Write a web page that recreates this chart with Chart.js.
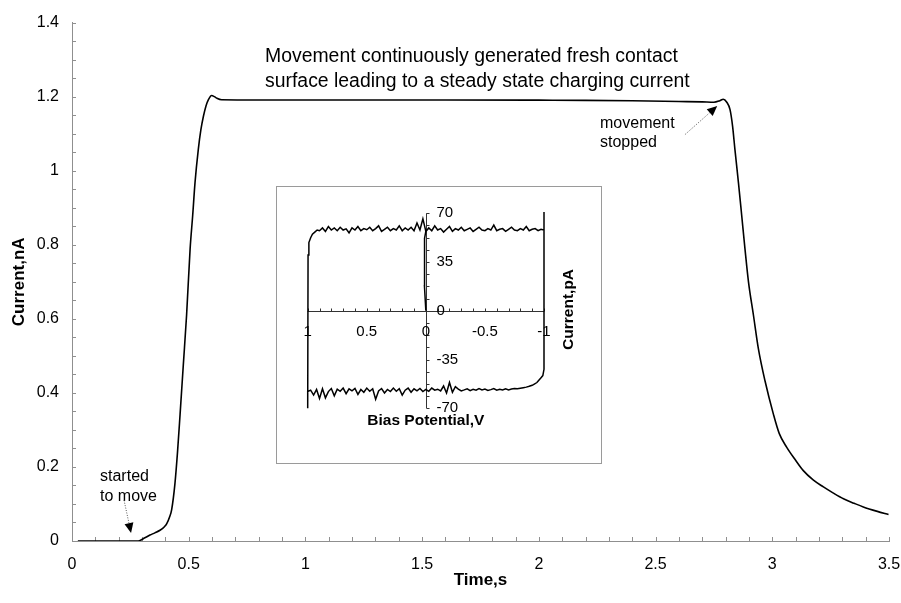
<!DOCTYPE html>
<html>
<head>
<meta charset="utf-8">
<script src="https://cdn.jsdelivr.net/npm/chart.js@4.4.1/dist/chart.umd.min.js"></script>
<style>
  html, body { margin: 0; padding: 0; background: #fff; }
  #wrap { position: relative; width: 901px; height: 603px; }
  #mainChart { display: block; }
  #inset { position: absolute; left: 276px; top: 186px; width: 326px; height: 278px;
           box-sizing: border-box; border: 1px solid #9a9a9a; background: #fff; }
  #insetChart { display: block; }
</style>
</head>
<body>
<div id="wrap">
  <canvas id="mainChart" width="901" height="603"></canvas>
  <div id="inset"><canvas id="insetChart" width="324" height="276"></canvas></div>
</div>
<script>
// Main trace: current vs time
const timeS = [0.025, 0.1, 0.2, 0.284, 0.31, 0.334, 0.355, 0.377, 0.395, 0.406, 0.418, 0.427, 0.441, 0.452, 0.463,
  0.477, 0.491, 0.506, 0.517, 0.527, 0.541, 0.552, 0.563, 0.574, 0.584, 0.598, 0.61, 0.62, 0.641, 0.8,
  1.2, 1.6, 2.0, 2.2, 2.4, 2.6, 2.7, 2.75, 2.775, 2.79, 2.805, 2.819, 2.83, 2.84, 2.855,
  2.869, 2.883, 2.898, 2.919, 2.94, 2.969, 3.005, 3.03, 3.062, 3.1, 3.133, 3.175, 3.219, 3.26, 3.305,
  3.35, 3.39, 3.45, 3.498];
const currentNA = [0, 0, 0, 0, 0.008, 0.016, 0.022, 0.029, 0.038, 0.047, 0.065, 0.085, 0.155, 0.24, 0.342,
  0.477, 0.611, 0.789, 0.879, 0.968, 1.057, 1.11, 1.147, 1.175, 1.191, 1.203, 1.2, 1.196, 1.1916, 1.191,
  1.191, 1.191, 1.1905, 1.19, 1.189, 1.187, 1.186, 1.185, 1.189, 1.193, 1.185, 1.165, 1.12, 1.057, 0.968,
  0.879, 0.789, 0.7, 0.611, 0.521, 0.432, 0.342, 0.29, 0.253, 0.218, 0.19, 0.165, 0.146, 0.13, 0.114,
  0.102, 0.092, 0.08, 0.0716];

const xTicks = [0, 0.5, 1, 1.5, 2, 2.5, 3, 3.5];
const yTicks = [0, 0.2, 0.4, 0.6, 0.8, 1, 1.2, 1.4];

// Inset: cyclic scan, current (pA) vs bias (V)
const cvStartV = [0, 0.012, 0.014, 0.008, 0];
const cvStartI = [0, 18, 38, 52, 57];

const cvUpperAV = [-0.025, -0.05, -0.075, -0.1, -0.125, -0.15, -0.175, -0.2, -0.225, -0.25,
  -0.275, -0.3, -0.325, -0.35, -0.375, -0.4, -0.425, -0.45, -0.475, -0.5,
  -0.525, -0.55, -0.575, -0.6, -0.625, -0.65, -0.675, -0.7, -0.725, -0.75,
  -0.775, -0.8, -0.825, -0.85, -0.875, -0.9, -0.925, -0.95, -0.975, -1];
const cvUpperAI = [59.5, 57.5, 61, 58, 59, 56.5, 58.5, 60.5, 57, 59,
  58, 60, 57.5, 58.5, 59.5, 57, 58.5, 60, 58, 57.5,
  59, 58, 61.5, 57.5, 58.5, 59, 57, 58.5, 60, 58,
  57.5, 59, 58, 60.5, 57.5, 58.5, 59, 57.5, 58.5, 58];

const cvTurnRightV = [-1, -1, -0.99, -0.975, -0.96, -0.94, -0.918, -0.9, -0.875, -0.85, -0.825, -0.8, -0.775, -0.75];
const cvTurnRightI = [71, -42, -46.5, -48, -49.5, -51.5, -52.6, -53.5, -54.2, -54.8, -55.2, -55.6, -56, -55.8];

const cvLowerV = [-0.725, -0.7, -0.675, -0.65, -0.625, -0.6, -0.575, -0.55, -0.525, -0.5,
  -0.475, -0.45, -0.425, -0.4, -0.375, -0.35, -0.325, -0.3, -0.275, -0.25,
  -0.225, -0.2, -0.175, -0.15, -0.125, -0.1, -0.075, -0.05, -0.025, 0,
  0.025, 0.05, 0.075, 0.1, 0.125, 0.15, 0.175, 0.2, 0.225, 0.25,
  0.275, 0.3, 0.325, 0.35, 0.375, 0.4, 0.425, 0.45, 0.475, 0.5,
  0.525, 0.55, 0.575, 0.6, 0.625, 0.65, 0.675, 0.7, 0.725, 0.75,
  0.775, 0.8, 0.825, 0.85, 0.875, 0.9, 0.925, 0.95, 0.975, 1];
const cvLowerI = [-56.2, -56.8, -56, -56.9, -56.3, -57, -55.8, -56.6, -57.2, -56.2,
  -56.8, -55.9, -57, -56.4, -57.3, -56, -56.8, -57.5, -56.2, -54.5,
  -58.5, -51.5, -59, -54, -57.5, -56.3, -57, -55.5, -57.8, -56.5,
  -58, -55.8, -57.5, -56, -58.5, -55.5, -57, -60.5, -56, -57.8,
  -55.5, -58, -56.5, -59, -55.8, -57.5, -63.5, -56, -57.8, -55.5,
  -58.5, -56.5, -60, -55.8, -57.5, -56, -59.5, -55.5, -57.8, -56.2,
  -61, -55.8, -58, -62.5, -56, -63, -56.5, -60.5, -57, -58];

const cvTurnLeftV = [1, 0.997, 0.99, 0.975, 0.96, 0.94, 0.92, 0.9];
const cvTurnLeftI = [-70, 40, 49, 52.5, 55, 56.5, 58, 57.5];

const cvUpperBV = [0.875, 0.85, 0.825, 0.8, 0.775, 0.75, 0.725, 0.7, 0.675, 0.65,
  0.625, 0.6, 0.575, 0.55, 0.525, 0.5, 0.475, 0.45, 0.425, 0.4,
  0.375, 0.35, 0.325, 0.3, 0.275, 0.25, 0.225, 0.2, 0.175, 0.15,
  0.125, 0.1, 0.075, 0.05, 0.025, 0];
const cvUpperBI = [59.5, 57, 60.5, 58, 59.5, 57.5, 60, 58, 58.8, 56,
  59.5, 58, 60.5, 57.5, 59, 58.2, 60, 57.5, 59, 61,
  57, 58.5, 60, 57.5, 59, 58, 61, 57.5, 59.5, 58,
  60, 57.5, 63, 58, 66, 57];

const insetXTicks = [1, 0.5, 0, -0.5, -1];
const insetYTicks = [70, 35, 0, -35, -70];

const FONT = 'Arial, "Liberation Sans", sans-serif';
const AXIS_GRAY = '#8f8f8f';

// Annotations placed in data units of the main chart
const notes = [
  { text: 'Movement continuously generated fresh contact', x: 0.827, y: 1.3087, size: 19.4 },
  { text: 'surface leading to a steady state charging current', x: 0.827, y: 1.2413, size: 19.4 },
  { text: 'movement', x: 2.262, y: 1.1263, size: 16 },
  { text: 'stopped', x: 2.262, y: 1.0753, size: 16 },
  { text: 'started', x: 0.12, y: 0.1743, size: 16 },
  { text: 'to move', x: 0.12, y: 0.1207, size: 16 }
];
const arrows = [
  { from: [0.223, 0.110], to: [0.253, 0.0215] },
  { from: [2.626, 1.0976], to: [2.764, 1.1746] }
];

function zipPoints(xs, ys) {
  return xs.map((v, i) => ({ x: v, y: ys[i] }));
}

// Inward minor tick marks on the main axes
const innerTicks = {
  id: 'innerTicks',
  beforeDatasetsDraw(chart) {
    const { ctx, scales: { x, y } } = chart;
    ctx.save();
    ctx.strokeStyle = AXIS_GRAY;
    ctx.lineWidth = 1;
    ctx.beginPath();
    for (let i = 0; i <= 35; i++) {
      const px = Math.round(x.getPixelForValue(i / 10)) + 0.5;
      ctx.moveTo(px, y.bottom);
      ctx.lineTo(px, y.bottom - 4);
    }
    for (let i = 0; i <= 28; i++) {
      const py = Math.round(y.getPixelForValue(i / 20)) + 0.5;
      ctx.moveTo(x.left, py);
      ctx.lineTo(x.left + 4, py);
    }
    ctx.stroke();
    ctx.restore();
  }
};

function drawArrow(ctx, x0, y0, x1, y1) {
  const ang = Math.atan2(y1 - y0, x1 - x0);
  const head = 10, half = 4.5;
  const bx = x1 - head * Math.cos(ang), by = y1 - head * Math.sin(ang);
  ctx.save();
  ctx.strokeStyle = '#555';
  ctx.lineWidth = 1;
  ctx.setLineDash([1, 1.5]);
  ctx.beginPath();
  ctx.moveTo(x0, y0);
  ctx.lineTo(bx, by);
  ctx.stroke();
  ctx.setLineDash([]);
  ctx.fillStyle = '#000';
  ctx.beginPath();
  ctx.moveTo(x1, y1);
  ctx.lineTo(bx + half * Math.sin(ang), by - half * Math.cos(ang));
  ctx.lineTo(bx - half * Math.sin(ang), by + half * Math.cos(ang));
  ctx.closePath();
  ctx.fill();
  ctx.restore();
}

const notesPlugin = {
  id: 'notes',
  afterDatasetsDraw(chart) {
    const { ctx, scales: { x, y } } = chart;
    ctx.save();
    ctx.fillStyle = '#000';
    ctx.textAlign = 'left';
    ctx.textBaseline = 'middle';
    notes.forEach(n => {
      ctx.font = n.size + 'px ' + FONT;
      ctx.fillText(n.text, x.getPixelForValue(n.x), y.getPixelForValue(n.y));
    });
    ctx.restore();
    arrows.forEach(a => {
      drawArrow(ctx, x.getPixelForValue(a.from[0]), y.getPixelForValue(a.from[1]),
        x.getPixelForValue(a.to[0]), y.getPixelForValue(a.to[1]));
    });
  }
};

new Chart(document.getElementById('mainChart'), {
  type: 'scatter',
  data: {
    datasets: [{
      data: zipPoints(timeS, currentNA),
      showLine: true,
      borderColor: '#000',
      borderWidth: 1.6,
      pointRadius: 0,
      cubicInterpolationMode: 'monotone',
      fill: false
    }]
  },
  options: {
    responsive: false,
    animation: false,
    layout: { padding: { top: 19, right: 0, left: 0, bottom: 0 } },
    plugins: { legend: { display: false }, tooltip: { enabled: false } },
    scales: {
      x: {
        type: 'linear', min: 0, max: 3.5,
        afterBuildTicks: s => { s.ticks = xTicks.map(v => ({ value: v })); },
        afterFit: s => { s.height = 62; s.paddingLeft = 0; s.paddingRight = 12; },
        ticks: { padding: 14, color: '#000', maxRotation: 0, font: { family: FONT, size: 16 }, callback: v => String(v) },
        grid: { drawOnChartArea: false, drawTicks: false },
        border: { display: true, color: AXIS_GRAY, width: 1 },
        title: { display: true, text: 'Time,s', color: '#000', font: { family: FONT, size: 17, weight: 'bold' }, padding: { top: 0, bottom: 12 } }
      },
      y: {
        type: 'linear', min: 0, max: 1.4,
        afterBuildTicks: s => { s.ticks = yTicks.map(v => ({ value: v })); },
        afterFit: s => { s.width = 72; },
        ticks: { padding: 13, color: '#000', font: { family: FONT, size: 16 }, callback: v => String(v) },
        grid: { drawOnChartArea: false, drawTicks: false },
        border: { display: true, color: AXIS_GRAY, width: 1 },
        title: { display: true, text: 'Current,nA', color: '#000', font: { family: FONT, size: 17, weight: 'bold' }, padding: { top: 9, bottom: 0 } }
      }
    }
  },
  plugins: [innerTicks, notesPlugin]
});

// Inset axes crossing at the origin, drawn from the inset scales
const insetAxes = {
  id: 'insetAxes',
  beforeDatasetsDraw(chart) {
    const { ctx, scales: { x, y } } = chart;
    const x0 = Math.round(x.getPixelForValue(0)) + 0.5;
    const y0 = Math.round(y.getPixelForValue(0)) + 0.5;
    ctx.save();
    ctx.strokeStyle = '#333';
    ctx.lineWidth = 1;
    ctx.beginPath();
    ctx.moveTo(x.getPixelForValue(1), y0);
    ctx.lineTo(x.getPixelForValue(-1), y0);
    ctx.moveTo(x0, y.getPixelForValue(70));
    ctx.lineTo(x0, y.getPixelForValue(-70));
    for (let i = -10; i <= 10; i++) {
      const px = Math.round(x.getPixelForValue(i / 10)) + 0.5;
      ctx.moveTo(px, y0);
      ctx.lineTo(px, y0 - 3);
    }
    for (let i = -8; i <= 8; i++) {
      const py = Math.round(y.getPixelForValue(i * 8.75)) + 0.5;
      ctx.moveTo(x0, py);
      ctx.lineTo(x0 + 3, py);
    }
    ctx.stroke();

    ctx.fillStyle = '#000';
    ctx.font = '15px ' + FONT;
    ctx.textAlign = 'center';
    ctx.textBaseline = 'middle';
    insetXTicks.forEach(v => ctx.fillText(String(v), x.getPixelForValue(v), y0 + 20));
    ctx.textAlign = 'left';
    insetYTicks.forEach(v => ctx.fillText(String(v), x0 + 10, y.getPixelForValue(v)));

    ctx.font = 'bold 15.5px ' + FONT;
    ctx.textAlign = 'center';
    ctx.fillText('Bias Potential,V', x.getPixelForValue(0), y.getPixelForValue(-79));
    ctx.translate(x.getPixelForValue(-1.212), y.getPixelForValue(1));
    ctx.rotate(-Math.PI / 2);
    ctx.fillText('Current,pA', 0, 0);
    ctx.restore();
  }
};

const cvPoints = [].concat(
  zipPoints(cvStartV, cvStartI),
  zipPoints(cvUpperAV, cvUpperAI),
  zipPoints(cvTurnRightV, cvTurnRightI),
  zipPoints(cvLowerV, cvLowerI),
  zipPoints(cvTurnLeftV, cvTurnLeftI),
  zipPoints(cvUpperBV, cvUpperBI)
);

new Chart(document.getElementById('insetChart'), {
  type: 'scatter',
  data: {
    datasets: [{
      data: cvPoints,
      showLine: true,
      borderColor: '#000',
      borderWidth: 1.5,
      pointRadius: 0,
      tension: 0,
      clip: false
    }]
  },
  options: {
    responsive: false,
    animation: false,
    layout: { padding: { left: 30.7, right: 57, top: 26.3, bottom: 54.7 } },
    plugins: { legend: { display: false }, tooltip: { enabled: false } },
    scales: {
      x: { type: 'linear', min: -1, max: 1, reverse: true, display: false },
      y: { type: 'linear', min: -70, max: 70, display: false }
    }
  },
  plugins: [insetAxes]
});
</script>
</body>
</html>
